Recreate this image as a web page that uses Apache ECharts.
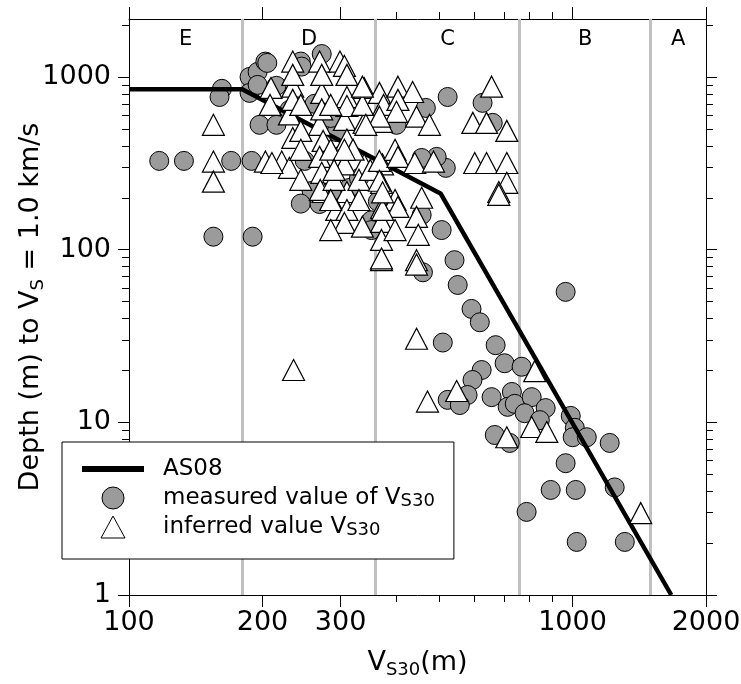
<!DOCTYPE html>
<html>
<head>
<meta charset="utf-8">
<title>Depth to Vs = 1.0 km/s vs VS30</title>
<script src="https://cdn.jsdelivr.net/npm/echarts@6.0.0/dist/echarts.min.js"></script>
<style>
html, body { margin: 0; padding: 0; background: #fff; }
#chart { width: 741px; height: 684px; }
</style>
</head>
<body>
<div id="chart"></div>
<script>
const FONT = 'DejaVu Sans';

// measured VS30 sites (gray circles)
const measuredVs30 = [117, 133, 170, 189, 155, 190, 162, 160, 187, 195, 203, 187, 195, 197, 215, 244, 272, 205, 245, 215,
  276, 294, 249, 258, 288, 314, 364, 352, 352, 285, 230, 244, 269, 330, 300, 262,
  523, 467, 627, 661, 401, 518, 494, 457, 507, 542, 457, 460, 551, 592, 618, 510, 671, 703, 768, 624, 595, 580,
  523, 557, 657, 730, 714, 741, 809, 780, 870, 844, 668, 722, 965, 991, 1012, 1001, 1077, 1213, 965, 893, 1017,
  1245, 788, 1022, 1312];
const measuredDepth = [327, 327, 327, 327, 119, 119, 855, 767, 1002, 1072, 1230, 810, 901, 529, 529, 1230, 1360, 1208, 1150, 890,
  565, 480, 327, 219, 219, 228, 190, 148, 130, 580, 645, 185, 184, 260, 350, 700,
  767, 663, 709, 543, 529, 298, 345, 340, 130, 87, 159, 74, 62.5, 45.4, 38, 29, 28, 22, 21, 20.1, 17.6, 14.4,
  13.5, 12.6, 14, 15, 12.3, 12.8, 14, 11.3, 12.1, 10.3, 8.45, 7.6, 57, 10.9, 9.3, 8.2, 8.2, 7.6, 5.8, 4.06, 4.06,
  4.2, 3.03, 2.03, 2.03];

// inferred VS30 sites (white triangles)
const inferredVs30 = [155, 155, 155, 235,
  234, 269, 299, 306, 209, 234, 272, 310, 339, 367, 230, 269, 306, 339, 371, 234, 274, 310, 203, 221, 230, 210,
  269, 272, 299, 306, 339, 373, 371, 274, 310, 294, 310, 306, 336, 371, 371, 371, 371, 270, 234, 272, 310, 244, 285, 320,
  234, 272, 310, 208, 244, 285, 336, 375, 244, 306, 398, 244, 290, 330, 285, 330, 398, 290, 350, 285, 398,
  404, 436, 404, 336, 445, 476, 401, 367, 342, 657, 596, 640, 711, 367, 404, 441, 486, 602, 640, 711, 711, 682,
  457, 404, 373, 445, 449, 445, 445, 371, 445, 548, 471, 822, 809, 875, 711, 1425, 682, 367, 373];
const inferredDepth = [529, 324, 248, 20.1,
  1230, 1230, 1230, 1161, 865, 880, 810, 767, 865, 810, 608, 529, 565, 543, 550, 444, 427, 435, 324, 324, 298, 318,
  345, 279, 318, 312, 312, 312, 244, 216, 216, 170, 170, 143, 136, 174, 145, 114, 87, 222, 738, 650, 680, 488, 380, 380,
  1030, 1030, 1030, 690, 690, 690, 690, 690, 379, 379, 379, 254, 254, 254, 194, 194, 194, 290, 290, 130, 130,
  880, 820, 738, 880, 590, 529, 629, 590, 529, 880, 543, 543, 488, 327, 345, 318, 324, 318, 318, 318, 244, 216,
  200, 177, 170, 155, 122, 87, 82, 89, 30.5, 15.2, 13.2, 19.8, 9.4, 8.8, 8.2, 2.98, 208, 251, 215];

// AS08 relation, break points
const as08Vs30 = [100, 180, 504, 1670];
const as08Depth = [850, 850, 212, 1];

// NEHRP site class boundaries
const classBounds = [180, 360, 760, 1500];
const classNames = ['E', 'D', 'C', 'B', 'A'];

const xLabelValues = [100, 200, 300, 1000, 2000];
const xMinorValues = [400, 500, 600, 700, 800, 900];
const yLabelValues = [1, 10, 100, 1000];
const yMinorValues = [2, 3, 4, 5, 6, 7, 8, 9, 20, 30, 40, 50, 60, 70, 80, 90,
  200, 300, 400, 500, 600, 700, 800, 900, 2000];

const X_MIN = 100, X_MAX = 2000, Y_MIN = 1, Y_MAX = 2170;

function pairs(xs, ys) {
  return xs.map((x, i) => [x, ys[i]]);
}

// letters sit in the middle of each band (log scale)
const edges = [X_MIN].concat(classBounds, [X_MAX]);
const classLabelData = classNames.map((n, i) => [Math.sqrt(edges[i] * edges[i + 1]), 1660, n]);

const subRich = {
  sub: { fontSize: 18, lineHeight: 10, verticalAlign: 'bottom', fontFamily: FONT, color: '#000' }
};

function plainNumber(v) {
  return String(Math.round(v));
}

function logAxis(extra) {
  return Object.assign({
    type: 'log',
    logBase: 10,
    splitLine: { show: false },
    axisLine: { show: false, onZero: false },
    axisLabel: { show: false }
  }, extra);
}

function tickAxis(isX, pos, values, len, withLine) {
  return logAxis({
    position: pos,
    min: isX ? X_MIN : Y_MIN,
    max: isX ? X_MAX : Y_MAX,
    axisLine: { show: withLine, onZero: false, lineStyle: { color: '#000', width: 1 } },
    axisTick: { show: true, customValues: values, length: len, inside: false, lineStyle: { color: '#000', width: 1 } }
  });
}

const legendText = {
  'AS08': 'AS08',
  'measured value of VS30': 'measured value of V{sub|S30}',
  'inferred value VS30': 'inferred value V{sub|S30}'
};

const chart = echarts.init(document.getElementById('chart'), null, { renderer: 'canvas' });

chart.setOption({
  animation: false,
  backgroundColor: '#fff',
  textStyle: { fontFamily: FONT },
  grid: {
    left: 129, right: 35, top: 19, bottom: 89,
    containLabel: false,
    outerBoundsMode: 'none'
  },
  xAxis: [
    logAxis({
      position: 'bottom',
      min: X_MIN,
      max: X_MAX,
      axisLine: { show: true, onZero: false, lineStyle: { color: '#000', width: 1 } },
      axisTick: { show: true, customValues: xLabelValues, length: 12, lineStyle: { color: '#000', width: 1 } },
      axisLabel: {
        show: true, customValues: xLabelValues, margin: 14, formatter: plainNumber,
        fontSize: 27, fontFamily: FONT, color: '#000'
      },
      name: 'V{sub|S30}(m)',
      nameLocation: 'middle',
      nameMoveOverlap: false,
      nameGap: 52,
      nameTextStyle: { fontSize: 27, lineHeight: 32, fontFamily: FONT, color: '#000', rich: subRich }
    }),
    tickAxis(true, 'bottom', xMinorValues, 7, false),
    tickAxis(true, 'top', xLabelValues, 12, true),
    tickAxis(true, 'top', xMinorValues, 7, false)
  ],
  yAxis: [
    logAxis({
      position: 'left',
      min: Y_MIN,
      max: Y_MAX,
      axisLine: { show: true, onZero: false, lineStyle: { color: '#000', width: 1 } },
      axisTick: { show: true, customValues: yLabelValues, length: 11, lineStyle: { color: '#000', width: 1 } },
      axisLabel: {
        show: true, customValues: yLabelValues, margin: 18, formatter: plainNumber,
        fontSize: 27, fontFamily: FONT, color: '#000'
      },
      name: 'Depth (m) to V{sub|S} = 1.0 km/s',
      nameLocation: 'middle',
      nameRotate: 90,
      nameMoveOverlap: false,
      nameGap: 82,
      nameTextStyle: { fontSize: 27, lineHeight: 32, fontFamily: FONT, color: '#000', rich: subRich }
    }),
    tickAxis(false, 'left', yMinorValues, 7, false),
    tickAxis(false, 'right', yLabelValues, 11, true),
    tickAxis(false, 'right', yMinorValues, 7, false)
  ],
  legend: {
    orient: 'vertical',
    left: 62,
    top: 442,
    padding: [15, 19, 20, 20],
    itemWidth: 62,
    itemHeight: 22,
    itemGap: 5,
    backgroundColor: '#fff',
    borderColor: '#000',
    borderWidth: 1,
    borderRadius: 0,
    selectedMode: false,
    data: [
      { name: 'AS08', icon: 'path://M0,0H62V6H0Z', itemStyle: { color: '#000', borderWidth: 0 } },
      { name: 'measured value of VS30', icon: 'circle', itemStyle: { color: '#9b9b9b', borderColor: '#000', borderWidth: 1 } },
      { name: 'inferred value VS30', icon: 'path://M12,0L24,22L0,22Z', itemStyle: { color: '#fff', borderColor: '#000', borderWidth: 1 } }
    ],
    formatter: name => legendText[name],
    textStyle: {
      fontSize: 23, lineHeight: 24, fontFamily: FONT, color: '#000',
      padding: [0, 0, 0, 14],
      rich: subRich
    }
  },
  series: [
    {
      name: 'site class',
      type: 'scatter',
      data: classLabelData,
      symbolSize: 1,
      itemStyle: { color: 'rgba(0,0,0,0)' },
      label: {
        show: true, position: 'inside', formatter: p => p.data[2],
        fontSize: 21, fontFamily: FONT, color: '#000', opacity: 1, textBorderWidth: 0
      },
      silent: true,
      z: 2,
      markLine: {
        silent: true,
        z: 1,
        symbol: 'none',
        label: { show: false },
        lineStyle: { color: '#c0c0c0', width: 3, type: 'solid' },
        emphasis: { disabled: true },
        data: classBounds.map(v => ({ xAxis: v }))
      }
    },
    {
      name: 'measured value of VS30',
      type: 'scatter',
      data: pairs(measuredVs30, measuredDepth),
      symbol: 'circle',
      symbolSize: 19,
      itemStyle: { color: '#9b9b9b', borderColor: '#000', borderWidth: 1, opacity: 1 },
      emphasis: { disabled: true },
      z: 3
    },
    {
      name: 'AS08',
      type: 'line',
      data: pairs(as08Vs30, as08Depth),
      symbol: 'none',
      lineStyle: { color: '#000', width: 4.5 },
      itemStyle: { color: '#000' },
      emphasis: { disabled: true },
      z: 4
    },
    {
      name: 'inferred value VS30',
      type: 'scatter',
      data: pairs(inferredVs30, inferredDepth),
      symbol: 'triangle',
      symbolSize: [22, 21],
      itemStyle: { color: '#fff', borderColor: '#000', borderWidth: 1.2, opacity: 1 },
      emphasis: { disabled: true },
      z: 5
    }
  ]
});
</script>
</body>
</html>
